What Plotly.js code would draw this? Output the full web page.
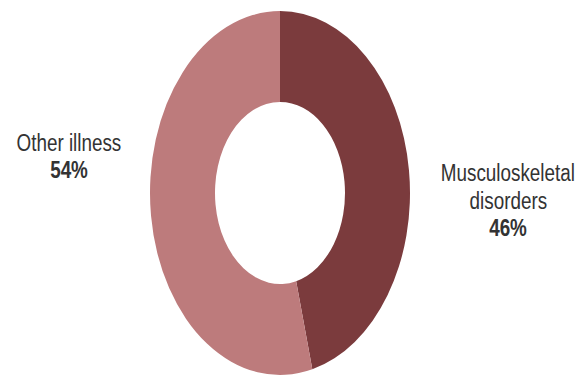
<!DOCTYPE html>
<html>
<head>
<meta charset="utf-8">
<script src="https://cdn.plot.ly/plotly-3.0.1.min.js"></script>
<style>
  html, body { margin: 0; padding: 0; background: #fff; }
  #chart { width: 581px; height: 376px; }
</style>
</head>
<body>
<div id="chart"></div>
<script>
// Data
const categories = ["Musculoskeletal disorders", "Other illness"];
const values = [46, 54];
const labelLines = [["Musculoskeletal", "disorders"], ["Other illness"]];
const sliceColors = ["#7b3b3d", "#bd7b7c"];

// Layout geometry (pixels)
const W = 581, H = 376;
const cx = 280, cy = 193, rx = 130, ry = 182;
const stretch = ry / rx;
const narrow = 0.82;   // horizontal compression emulating a narrow typeface

const FONT = '"Liberation Sans", Arial, sans-serif';

const total = values.reduce((a, b) => a + b, 0);
const pct = values.map(v => Math.round(v / total * 100) + "%");

// label placement (pixel centres)
const labelPos = [
  { x: 508, ys: [173, 201, 228] },
  { x: 69, ys: [143, 170] }
];

const annotations = [];
categories.forEach((c, i) => {
  const lines = labelLines[i].concat(["<b>" + pct[i] + "</b>"]);
  lines.forEach((t, j) => {
    annotations.push({
      xref: "paper", yref: "paper",
      x: labelPos[i].x / W, y: 1 - labelPos[i].ys[j] / H,
      xanchor: "center", yanchor: "middle",
      text: t, showarrow: false,
      font: { family: FONT, size: 23, color: "#333333" }
    });
  });
});

const trace = {
  type: "pie",
  labels: categories,
  values: values,
  hole: 0.5,
  sort: false,
  direction: "clockwise",
  rotation: 0,
  textinfo: "none",
  hoverinfo: "label+percent",
  marker: { colors: sliceColors, line: { width: 0 } },
  domain: { x: [(cx - rx) / W, (cx + rx) / W], y: [1 - (cy + rx) / H, 1 - (cy - rx) / H] }
};

const layout = {
  width: W, height: H,
  margin: { l: 0, r: 0, t: 0, b: 0 },
  paper_bgcolor: "#ffffff",
  showlegend: false,
  annotations: annotations
};

Plotly.newPlot("chart", [trace], layout, { displayModeBar: false, staticPlot: true }).then(gd => {
  const layer = gd.querySelector(".pielayer");
  if (layer) {
    layer.setAttribute("transform",
      "translate(" + cx + "," + cy + ") scale(1," + stretch + ") translate(" + (-cx) + "," + (-cy) + ")");
  }
  gd.querySelectorAll("g.annotation").forEach(a => {
    const b = a.getBBox();
    const mx = b.x + b.width / 2;
    a.setAttribute("transform",
      "translate(" + mx + ",0) scale(" + narrow + ",1) translate(" + (-mx) + ",0)");
  });
});
</script>
</body>
</html>
